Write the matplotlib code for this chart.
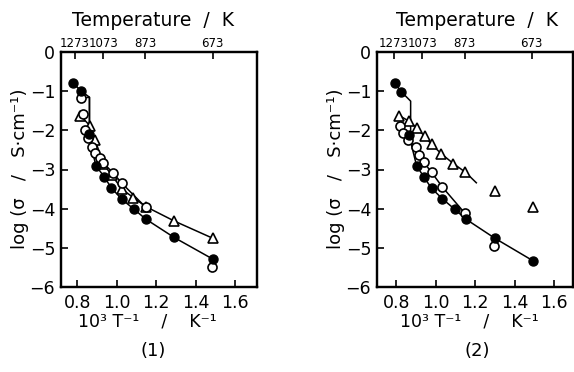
import matplotlib
matplotlib.use("Agg")
import matplotlib.pyplot as plt
from matplotlib import font_manager
import numpy as np

plt.rcParams['font.family'] = ['DejaVu Sans']

W, H = 574, 372

# ---------------- data ----------------
temps_top = [1273, 1073, 873, 673]
temp_labels = ["1273", "1073", "873", "673"]
x_ticks = [0.8, 1.0, 1.2, 1.4, 1.6]
x_ticklabels = ["0.8", "1.0", "1.2", "1.4", "1.6"]
y_ticks = [0, -1, -2, -3, -4, -5, -6]
y_ticklabels = ["0", "\u22121", "\u22122", "\u22123", "\u22124", "\u22125", "\u22126"]

# panel (1)
p1_filled_x = [0.777, 0.816, 0.858, 0.893, 0.935, 0.972, 1.025, 1.088, 1.147, 1.291, 1.486]
p1_filled_y = [-0.78, -0.98, -2.10, -2.90, -3.18, -3.47, -3.76, -4.02, -4.27, -4.74, -5.29]
p1_filled_line_x = [0.777, 0.816, 0.861, 0.861, 0.858, 0.893, 0.935, 0.972, 1.025, 1.088, 1.147, 1.291, 1.486]
p1_filled_line_y = [-0.78, -0.98, -1.15, -1.95, -2.10, -2.90, -3.18, -3.47, -3.76, -4.02, -4.27, -4.74, -5.29]
p1_open_x = [0.817, 0.830, 0.839, 0.856, 0.873, 0.890, 0.915, 0.932, 0.980, 1.025, 1.147, 1.485]
p1_open_y = [-1.18, -1.59, -1.99, -2.20, -2.42, -2.59, -2.71, -2.84, -3.08, -3.35, -3.97, -5.49]
p1_open_line_x = [0.817, 0.861, 0.861, 0.839, 0.856, 0.873, 0.890, 0.915, 0.932, 0.980, 1.025, 1.147]
p1_open_line_y = [-1.18, -1.15, -1.90, -1.99, -2.20, -2.42, -2.59, -2.71, -2.84, -3.08, -3.35, -3.97]
p1_tri_x = [0.814, 0.864, 0.890, 0.930, 0.975, 1.025, 1.084, 1.147, 1.292, 1.487]
p1_tri_y = [-1.62, -1.88, -2.24, -2.85, -3.15, -3.50, -3.72, -3.95, -4.32, -4.76]

# panel (2)
p2_filled_x = [0.791, 0.825, 0.864, 0.902, 0.940, 0.978, 1.033, 1.096, 1.152, 1.299, 1.490]
p2_filled_y = [-0.79, -1.01, -2.12, -2.90, -3.20, -3.48, -3.75, -4.02, -4.27, -4.76, -5.33]
p2_filled_line_x = [0.791, 0.825, 0.872, 0.872, 0.864, 0.902, 0.940, 0.978, 1.033, 1.096, 1.152, 1.299, 1.490]
p2_filled_line_y = [-0.79, -1.01, -1.25, -2.00, -2.12, -2.90, -3.20, -3.48, -3.75, -4.02, -4.27, -4.76, -5.33]
p2_open_x = [0.817, 0.834, 0.859, 0.897, 0.915, 0.939, 0.978, 1.033, 1.147, 1.295]
p2_open_y = [-1.88, -2.07, -2.24, -2.43, -2.63, -2.82, -3.07, -3.45, -4.12, -4.97]
p2_tri_x = [0.814, 0.863, 0.905, 0.943, 0.979, 1.028, 1.089, 1.150, 1.300, 1.491]
p2_tri_y = [-1.62, -1.76, -1.94, -2.15, -2.36, -2.60, -2.85, -3.07, -3.55, -3.97]
p2_tri_line_x = [0.814, 0.863, 0.905, 0.943, 0.979, 1.028, 1.089, 1.150, 1.205]
p2_tri_line_y = [-1.62, -1.76, -1.94, -2.15, -2.36, -2.60, -2.85, -3.07, -3.34]

# narrow font for the crowded top labels, if available
_names = {f.name for f in font_manager.fontManager.ttflist}
narrow_family = ['Liberation Sans Narrow'] if 'Liberation Sans Narrow' in _names else ['DejaVu Sans']
top_fs = 10 if 'Liberation Sans Narrow' in _names else 8.5

fig = plt.figure(figsize=(W / 100, H / 100), dpi=100)


def fx(px):
    return px / W


def fy(py):
    return 1 - py / H


def make_axes(left, right, top, bottom, xlim):
    ax = fig.add_axes([fx(left), fy(bottom), fx(right) - fx(left), fy(top) - fy(bottom)])
    ax.set_xlim(*xlim)
    ax.set_ylim(-6, 0)
    for s in ax.spines.values():
        s.set_linewidth(1.6)
    ax.set_xticks(x_ticks)
    ax.set_xticklabels(x_ticklabels, fontsize=12.5)
    ax.set_yticks(y_ticks)
    ax.set_yticklabels(y_ticklabels, fontsize=12.5)
    ax.tick_params(direction='in', length=5, width=1.2, pad=5)
    ax.tick_params(axis='y', pad=4)
    top_ax = ax.twiny()
    top_ax.set_xlim(*xlim)
    top_ax.set_xticks([1000.0 / t for t in temps_top])
    top_ax.set_xticklabels(temp_labels, fontsize=top_fs, family=narrow_family)
    top_ax.tick_params(direction='in', length=5, width=1.2, pad=2)
    for s in top_ax.spines.values():
        s.set_linewidth(1.6)
    return ax


lw = 1.1
ms_c = 6.5
ms_t = 7.5

# ---- panel 1 ----
ax1 = make_axes(60.7, 256.7, 52.3, 286.7, (0.715, 1.71))
ax1.plot(p1_tri_x, p1_tri_y, color='black', lw=lw, zorder=2)
ax1.plot(p1_open_line_x, p1_open_line_y, color='black', lw=lw, zorder=2)
ax1.plot(p1_filled_line_x, p1_filled_line_y, color='black', lw=lw, zorder=2)
ax1.plot(p1_tri_x, p1_tri_y, ls='none', marker='^', ms=ms_t, mfc='white', mec='black', mew=1.2, zorder=3)
ax1.plot(p1_open_x, p1_open_y, ls='none', marker='o', ms=ms_c, mfc='white', mec='black', mew=1.2, zorder=4)
ax1.plot(p1_filled_x, p1_filled_y, ls='none', marker='o', ms=ms_c, mfc='black', mec='black', zorder=5)

# ---- panel 2 ----
ax2 = make_axes(376.7, 573.0, 52.3, 286.7, (0.70, 1.695))
ax2.plot(p2_tri_line_x, p2_tri_line_y, color='black', lw=lw, zorder=2)
ax2.plot(p2_open_x[:-1], p2_open_y[:-1], color='black', lw=lw, zorder=2)
ax2.plot(p2_filled_line_x, p2_filled_line_y, color='black', lw=lw, zorder=2)
ax2.plot(p2_tri_x, p2_tri_y, ls='none', marker='^', ms=ms_t, mfc='white', mec='black', mew=1.2, zorder=3)
ax2.plot(p2_open_x, p2_open_y, ls='none', marker='o', ms=ms_c, mfc='white', mec='black', mew=1.2, zorder=4)
ax2.plot(p2_filled_x, p2_filled_y, ls='none', marker='o', ms=ms_c, mfc='black', mec='black', zorder=5)

# ---- texts ----
for cx, ylx, xlx, lab in [(153, 20, 147, "(1)"), (477, 336, 469, "(2)")]:
    fig.text(fx(cx), fy(20), "Temperature  /  K", ha='center', va='center', fontsize=13.5)
    fig.text(fx(ylx), fy(169), "log (\u03c3   /   S\u00b7cm\u207b\u00b9)", ha='center', va='center',
             rotation=90, fontsize=13)
    fig.text(fx(xlx), fy(322), "10\u00b3 T\u207b\u00b9    /    K\u207b\u00b9", ha='center', va='center', fontsize=12.5)
    fig.text(fx(cx), fy(351), lab, ha='center', va='center', fontsize=13)

fig.savefig("out.png", dpi=100)
